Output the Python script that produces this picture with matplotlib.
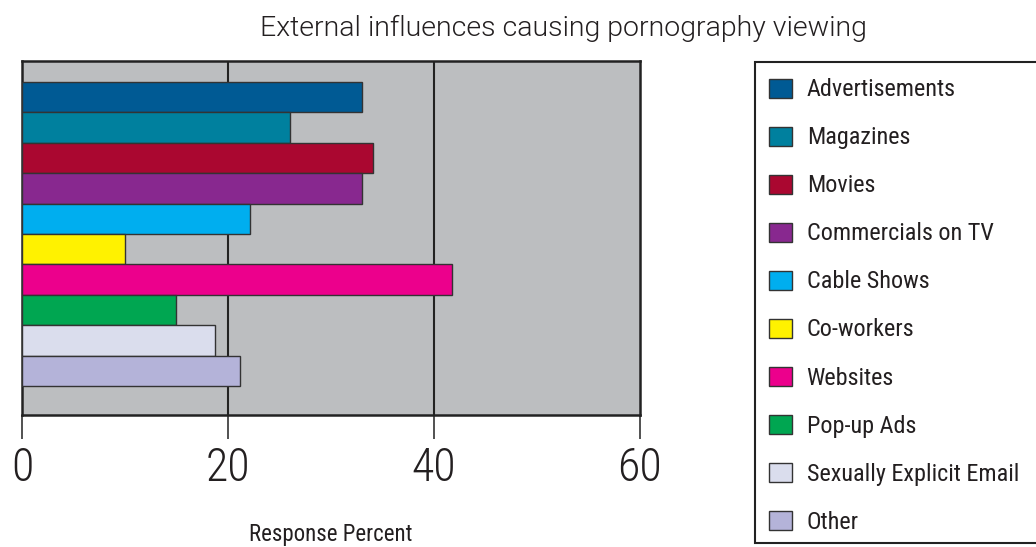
import matplotlib.pyplot as plt
import matplotlib.patches as mpatches

categories = ['Advertisements', 'Magazines', 'Movies', 'Commercials on TV', 'Cable Shows',
              'Co-workers', 'Websites', 'Pop-up Ads', 'Sexually Explicit Email', 'Other']
values = [33.0, 26.0, 34.1, 33.0, 22.1, 10.0, 41.8, 15.0, 18.7, 21.2]
colors = ['#005a94', '#00809e', '#aa0730', '#88288f', '#00aeef',
          '#fff200', '#ec008c', '#00a651', '#dadded', '#b4b3d9']
xticks = [0, 20, 40, 60]

plt.rcParams['font.family'] = ['Roboto Condensed', 'DejaVu Sans']
text_color = '#231f20'

fig = plt.figure(figsize=(10.36, 5.47), dpi=100)
ax = fig.add_axes([0.0212, 0.2413, 0.5965, 0.6472])
ax.set_facecolor('#bcbec0')

ypos = list(range(len(categories)))
ax.barh(ypos, values, height=1.0, color=colors, edgecolor='#333333', linewidth=1, zorder=3)
for x in xticks[1:-1]:
    ax.axvline(x, color='#222222', linewidth=1.5, zorder=2)

ax.set_xlim(0, 60)
ax.set_ylim(10.45, -1.19)
ax.set_yticks([])
ax.set_xticks(xticks)
ax.set_xticklabels([str(t) for t in xticks], fontsize=33, fontweight=300, color=text_color)
ax.tick_params(axis='x', length=17, width=1.2, color='#333333', pad=5)
for s in ax.spines.values():
    s.set_linewidth(1.8)
    s.set_color('#222222')

fig.text(0.5434, 0.948, 'External influences causing pornography viewing', ha='center', va='center',
         fontsize=20.5, fontweight=300, family=['Roboto', 'DejaVu Sans'], color=text_color)
fig.text(0.3195, 0.022, 'Response Percent', ha='center', va='center', fontsize=16.5, color=text_color)

# legend box runs off the right edge, like the original
fig.add_artist(mpatches.Rectangle((755 / 1036, 1 - 543 / 547), 300 / 1036, 481 / 547,
                                  transform=fig.transFigure, facecolor='white',
                                  edgecolor='#222222', linewidth=1.5, zorder=0))

handles = [mpatches.Patch(facecolor=c, edgecolor='#333333', linewidth=1) for c in colors]
leg = fig.legend(handles, categories, loc='upper left', bbox_to_anchor=(753 / 1036, 1 - 62 / 547),
                 borderaxespad=0, fontsize=17.4, frameon=False,
                 handlelength=0.92, handleheight=0.84, handletextpad=0.62, labelspacing=1.035,
                 borderpad=0.68)
for t in leg.get_texts():
    t.set_color(text_color)

fig.savefig('out.png', dpi=100)
